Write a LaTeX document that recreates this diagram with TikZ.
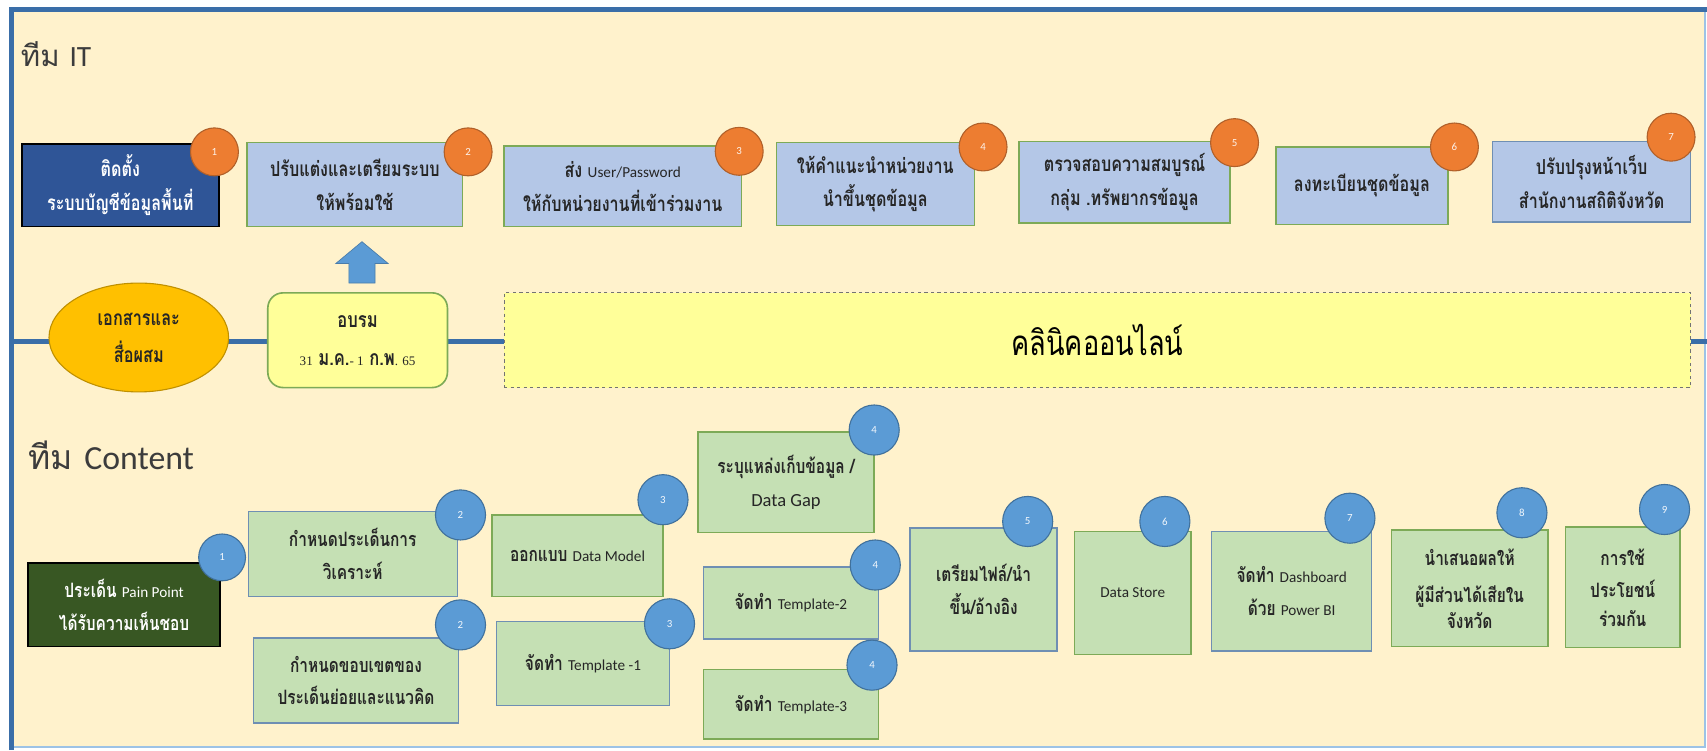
\documentclass[tikz,border=0pt]{standalone}
\usepackage{fontspec}
\setmainfont{Loma}[Script=Thai]
\newfontfamily\thc{Loma}[Script=Thai, FakeStretch=0.78]
\newfontfamily\latf{Carlito}
\newfontfamily\serf{Liberation Serif}
\newcommand\latsm[1]{{\latf\mdseries\fontsize{14}{14}\selectfont #1}}
\usetikzlibrary{shapes.geometric}
\definecolor{cream}{HTML}{FFF2CC}
\definecolor{frameblue}{HTML}{3A6EA8}
\definecolor{framelight}{HTML}{9DC3E6}
\definecolor{midblue}{HTML}{3A6EA8}
\definecolor{ltblue}{HTML}{B4C7E7}
\definecolor{ltgreen}{HTML}{C5E0B4}
\definecolor{gborder}{HTML}{7DAA57}
\definecolor{bborder}{HTML}{6F8FB3}
\definecolor{darkblue}{HTML}{2F5597}
\definecolor{darkgreen}{HTML}{385723}
\definecolor{orangeb}{HTML}{ED7D31}
\definecolor{oranged}{HTML}{B0602A}
\definecolor{blueb}{HTML}{5B9BD5}
\definecolor{blued}{HTML}{41719C}
\definecolor{yel}{HTML}{FFFF99}
\definecolor{gold}{HTML}{FFC000}
\definecolor{goldd}{HTML}{BF9000}
\definecolor{txt}{HTML}{262626}
\definecolor{arrowb}{HTML}{5B9BD5}
\begin{document}
\begin{tikzpicture}[x=1pt,y=-1pt,
  boxtext/.style={align=center, inner sep=0pt, text=txt, font=\thc\bfseries\fontsize{18.2}{30}\selectfont},
  itfont/.style={font=\thc\bfseries\fontsize{19}{31}\selectfont},
  itbox/.style={boxtext, itfont, draw=gborder, line width=1.3pt, fill=ltblue},
  itboxb/.style={boxtext, itfont, draw=bborder, line width=1.3pt, fill=ltblue},
  gbox/.style={boxtext, draw=gborder, line width=1.3pt, fill=ltgreen},
  bbox/.style={boxtext, draw=bborder, line width=1.3pt, fill=ltgreen},
  sz/.style 2 args={minimum width=#1, minimum height=#2},
  obadge/.style={circle, fill=orangeb, draw=oranged, line width=1pt, minimum size=44, inner sep=0pt, text=white!90!orangeb, font=\latf\fontsize{10}{10}\selectfont},
  bbadge/.style={circle, fill=blueb, draw=blued, line width=1pt, minimum size=46, inner sep=0pt, text=white!92!blueb, font=\latf\fontsize{10}{10}\selectfont},
  title/.style={anchor=west, inner sep=0pt, text=txt!90}
]
\useasboundingbox (0,0) rectangle (1568,689);
\fill[white] (0,0) rectangle (1568,689);
\fill[cream] (10,8) rectangle (1566,686);
\draw[framelight, line width=1.5pt] (1566,8) -- (1566,686) -- (10,686);
\draw[frameblue, line width=4.6pt] (10.8,689) -- (10.8,8.7) -- (1568,8.7);

% titles
\node[title, font=\fontsize{27}{27}\selectfont] (tIT) at (19,50) {ทีม {\latf IT}};
\node[title, font=\fontsize{31}{31}\selectfont] (tCT) at (26,418) {ทีม {\latf Content}};

% middle line
\coordinate (Lw) at (10,314);
\coordinate (Le) at (1568,314);
\draw[midblue, line width=4.6pt] (Lw) -- (Le);

% IT row
\node[boxtext, itfont, sz={181}{76}, fill=darkblue, draw=black, line width=1.5pt, text=white] (i1) at (110.5,170) {ติดตั้ง\\ระบบบัญชีข้อมูลพื้นที่};
\node[itbox, sz={198}{77}] (i2) at (326,169.5) {ปรับแต่งและเตรียมระบบ\\ให้พร้อมใช้};
\node[itbox, sz={218}{74}] (i3) at (572,171) {ส่ง \latsm{User/Password}\\ให้กับหน่วยงานที่เข้าร่วมงาน};
\node[itbox, sz={182}{76}] (i4) at (804,169) {ให้คำแนะนำหน่วยงาน\\นำขึ้นชุดข้อมูล};
\node[itbox, sz={194}{75}] (i5) at (1033,167.5) {ตรวจสอบความสมบูรณ์\\กลุ่ม .ทรัพยากรข้อมูล};
\node[itbox, sz={158}{71}] (i6) at (1251,170.5) {ลงทะเบียนชุดข้อมูล};
\node[itboxb, sz={182}{74}] (i7) at (1462,167) {ปรับปรุงหน้าเว็บ\\สำนักงานสถิติจังหวัด};

\node[obadge] (o1) at (197,139.5) {1};
\node[obadge] (o2) at (430,139.5) {2};
\node[obadge] (o3) at (679,139) {3};
\node[obadge] (o4) at (903,135) {4};
\node[obadge] (o5) at (1134,131) {5};
\node[obadge] (o6) at (1336,135) {6};
\node[obadge] (o7) at (1535,126) {7};

% up arrow
\filldraw[fill=arrowb, draw=arrowb!80!black, line width=0.6pt]
  (320.5,260) -- (320.5,242) -- (308.5,242) -- (332.5,222) -- (356.5,242) -- (344.5,242) -- (344.5,260) -- cycle;

% middle row
\node[ellipse, minimum width=165, minimum height=100, inner sep=0pt, fill=gold, draw=goldd, line width=1pt,
  align=center, text=txt, font=\thc\bfseries\fontsize{19.2}{34}\selectfont] (doc) at (127.5,310) {เอกสารและ\\สื่อผสม};
\node[rectangle, rounded corners=14pt, minimum width=165, minimum height=87, inner sep=0pt, fill=yel, draw=gborder, line width=1.5pt,
  align=center, text=txt, font=\thc\bfseries\fontsize{19.5}{35}\selectfont] (train) at (328.5,312.5)
  {อบรม\\{\serf\mdseries\fontsize{12}{12}\selectfont 31} ม.ค.{\serf\mdseries\fontsize{12}{12}\selectfont - 1} ก.พ{\serf\mdseries\fontsize{12}{12}\selectfont . 65}};
\node[rectangle, minimum width=1090, minimum height=87, inner sep=0pt, fill=yel, draw=black!55, dashed, line width=0.8pt,
  text=black, font=\thc\fontsize{32}{32}\selectfont] (clinic) at (1008,312.5) {คลินิคออนไลน์};

% content row
\node[boxtext, sz={176}{77}, fill=darkgreen, draw=black, line width=1.5pt, text=white] (p1) at (114,555.5) {ประเด็น \latsm{Pain Point}\\ได้รับความเห็นชอบ};
\node[bbox, sz={192}{78}] (c2a) at (324,509) {กำหนดประเด็นการ\\วิเคราะห์};
\node[bbox, sz={188}{78}] (c2b) at (327,625) {กำหนดขอบเขตของ\\ประเด็นย่อยและแนวคิด};
\node[gbox, sz={157}{75}] (c3a) at (530.5,510.5) {ออกแบบ \latsm{Data Model}};
\node[bbox, sz={159}{77}] (c3b) at (535.5,609.5) {จัดทำ \latsm{Template -1}};
\node[gbox, sz={162}{92}] (c4a) at (722,443) {ระบุแหล่งเก็บข้อมูล /\\{\latf\mdseries\fontsize{17}{17}\selectfont Data Gap}};
\node[bbox, sz={161}{66}] (c4b) at (726.5,554) {จัดทำ \latsm{Template-2}};
\node[gbox, sz={161}{64}] (c4c) at (726.5,647) {จัดทำ \latsm{Template-3}};
\node[bbox, sz={135}{113}] (c5) at (903.5,541.5) {เตรียมไฟล์/นำ\\ขึ้น/อ้างอิง};
\node[gbox, sz={107}{113}] (c6) at (1040.5,544.5) {\latsm{Data Store}};
\node[bbox, sz={147}{110}] (c7) at (1186.5,543) {จัดทำ \latsm{Dashboard}\\ด้วย \latsm{Power BI}};
\node[gbox, sz={144}{107}] (c8) at (1350,540.5) {นำเสนอผลให้\\[4pt]ผู้มีส่วนได้เสียใน\\[-6pt]จังหวัด};
\node[gbox, sz={105}{111}] (c9) at (1490.5,539.5) {การใช้\\ประโยชน์\\[-4pt]ร่วมกัน};

\node[bbadge, minimum size=43] (n1) at (204,512) {1};
\node[bbadge] (n2a) at (423,473) {2};
\node[bbadge] (n2b) at (423,574) {2};
\node[bbadge] (n3a) at (609,459) {3};
\node[bbadge] (n3b) at (615,573) {3};
\node[bbadge] (n4a) at (803,395) {4};
\node[bbadge] (n4b) at (804,519) {4};
\node[bbadge] (n4c) at (801,611) {4};
\node[bbadge] (n5) at (944,479) {5};
\node[bbadge] (n6) at (1070,479) {6};
\node[bbadge] (n7) at (1240,476) {7};
\node[bbadge] (n8) at (1398,471) {8};
\node[bbadge] (n9) at (1529,468) {9};
\end{tikzpicture}
\end{document}
